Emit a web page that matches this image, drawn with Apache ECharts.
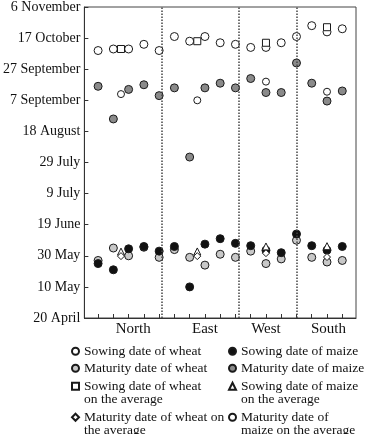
<!DOCTYPE html>
<html>
<head>
<meta charset="utf-8">
<script src="https://cdn.jsdelivr.net/npm/echarts@6/dist/echarts.min.js"></script>
<style>html,body{margin:0;padding:0;background:#fff}#c{width:366px;height:434px}</style>
</head>
<body>
<div id="c"></div>
<script>
// y values: days after 20 April
const yTickLabels = ['20 April','10 May','30 May','19 June','9 July','29 July','18 August','7 September','27 September','17 October','6 November'];
const regions = ['North','East','West','South'];
const regionLabelAt = [3.3, 8, 12, 16.1];
const dividers = [5.2, 10.2, 14.05];
const stations = [1,2,3,4,5,6,7,8,9,10,11,12,13,14,15,16,17];
const wheatSowing   = [172,173,173,176,172,181,178,181,177,176,174,174,177,181,188,184,186];
const wheatMaturity = [37,45,40,45.5,39,44,39,34,41,39,43,35,38,50,39,36,37];
const maizeSowing   = [35,31,44.5,46,43,46,20,47.5,51,48,46.5,43.5,42,54,46.5,43.6,46];
const maizeMaturity = [149,128,147,150,143,148,103.5,148,151,148,154,145,145,164,151,139.5,146];
const avgX = [2.5, 7.5, 12, 16];
const avgWheatSowing   = [173,178,177,187];
const avgWheatMaturity = [39.8,39.8,41.7,39.2];
const avgMaizeSowing   = [42.7,42.8,46,46.2];
const avgMaizeMaturity = [144,140,152,145.5];

const names = ['Sowing date of wheat','Maturity date of wheat','Sowing date of maize','Maturity date of maize',
  'Sowing date of wheat on the average','Sowing date of maize on the average',
  'Maturity date of wheat on the average','Maturity date of maize on the average'];
const legendText = {
  'Sowing date of wheat on the average':'Sowing date of wheat\non the average',
  'Sowing date of maize on the average':'Sowing date of maize\non the average',
  'Maturity date of wheat on the average':'Maturity date of wheat on\nthe average',
  'Maturity date of maize on the average':'Maturity date of\nmaize on the average'
};
const FONT = "'Liberation Serif','Times New Roman',serif";
const zip = (xs, ys) => xs.map((x,i)=>[x, ys[i]]);

function sc(name, data, symbol, size, color, z){
  return {name, type:'scatter', data, symbol, symbolSize:size, z,
    itemStyle:{color, borderColor:'#1a1a1a', borderWidth:1, opacity:1},
    emphasis:{disabled:true}, animation:false};
}
const series = [
  sc(names[0], zip(stations, wheatSowing), 'circle', 8, '#ffffff', 2),
  sc(names[1], zip(stations, wheatMaturity), 'circle', 8, '#c8c8c8', 2),
  sc(names[2], zip(stations, maizeSowing), 'circle', 8, '#111111', 3),
  sc(names[3], zip(stations, maizeMaturity), 'circle', 8, '#8a8a8a', 2),
  sc(names[4], zip(avgX, avgWheatSowing), 'rect', 7, '#ffffff', 4),
  sc(names[5], zip(avgX, avgMaizeSowing), 'triangle', 7, '#ffffff', 4),
  sc(names[6], zip(avgX, avgWheatMaturity), 'diamond', 7, '#ffffff', 4),
  sc(names[7], zip(avgX, avgMaizeMaturity), 'circle', 7, '#ffffff', 4)
];
series[0].markLine = {silent:true, symbol:'none', label:{show:false},
  lineStyle:{type:'dotted', color:'#444', width:1.5},
  data: dividers.map(v=>({xAxis:v}))};

// legend layout: [name index, left, icon centre y]
const LH = 13.5;
const legendPos = [[0,71,351],[2,228,351],[1,71,368],[3,228,368],[4,71,386],[5,228,386],[6,71,417],[7,228,417]];
const legends = legendPos.map(([i,left,cy])=>{
  const nm = names[i];
  const multi = !!legendText[nm];
  return {
    data:[nm], left, top: multi ? cy-1.5*LH : cy-LH/2, padding:0, itemWidth:7, itemHeight:7, itemGap:0,
    selectedMode:false,
    formatter: n => legendText[n] ? ' \n' + legendText[n] : n,
    textStyle: {fontFamily:FONT, fontSize:13.5, color:'#111', lineHeight:LH}
  };
});

const chart = echarts.init(document.getElementById('c'), null, {renderer:'canvas'});
chart.setOption({
  backgroundColor:'#fff',
  animation:false,
  grid:{left:80, right:10, top:5, bottom:116, show:true, borderColor:'#444', borderWidth:1, backgroundColor:'transparent'},
  legend: legends,
  xAxis:{type:'value', min:0.1, max:17.9,
    axisLine:{show:true, lineStyle:{color:'#333'}},
    axisTick:{show:true, inside:true, length:4, customValues:stations, lineStyle:{color:'#333'}},
    axisLabel:{show:true, customValues:regionLabelAt, margin:4, fontFamily:FONT, fontSize:15, color:'#111',
      formatter: v => { const i = regionLabelAt.findIndex(r=>Math.abs(r-v)<0.01); return i>=0 ? regions[i] : ''; }},
    splitLine:{show:false}},
  yAxis:{type:'value', min:0, max:200, interval:20,
    axisLine:{show:true, lineStyle:{color:'#333'}},
    axisTick:{show:true, inside:true, length:4, lineStyle:{color:'#333'}},
    axisLabel:{margin:4, fontFamily:FONT, fontSize:14, color:'#111',
      formatter: v => yTickLabels[Math.round(v/20)] || ''},
    splitLine:{show:false}},
  series
});
</script>
</body>
</html>
